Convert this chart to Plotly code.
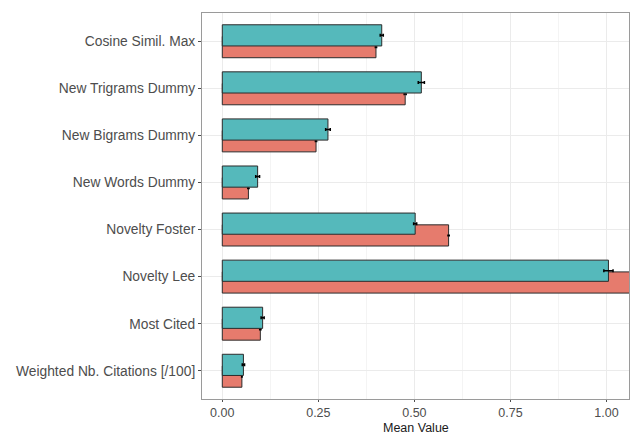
import plotly.graph_objects as go

# Indicators, listed top to bottom
categories = [
    "Cosine Simil. Max",
    "New Trigrams Dummy",
    "New Bigrams Dummy",
    "New Words Dummy",
    "Novelty Foster",
    "Novelty Lee",
    "Most Cited",
    "Weighted Nb. Citations [/100]",
]

# Mean values and standard errors for the two groups
teal_mean = [0.415, 0.518, 0.275, 0.092, 0.502, 1.005, 0.105, 0.055]
teal_err = [0.004, 0.008, 0.006, 0.005, 0.004, 0.012, 0.004, 0.003]
salmon_mean = [0.400, 0.476, 0.244, 0.068, 0.589, 1.080, 0.099, 0.051]
salmon_err = [0.002, 0.003, 0.002, 0.002, 0.002, 0.004, 0.002, 0.001]

x_ticks = [0, 0.25, 0.5, 0.75, 1.0]
x_tick_labels = ["0.00", "0.25", "0.50", "0.75", "1.00"]

TEAL = "#55B9BB"
SALMON = "#E67B6D"
OUTLINE = "#2b2b2b"
BAR_W = 0.45
LABEL_GREY = "#4D4D4D"

fig = go.Figure()

# salmon drawn first so the teal bar sits on top of the overlap
fig.add_trace(go.Bar(
    y=categories, x=salmon_mean, orientation="h",
    width=BAR_W, offset=0.125 - BAR_W / 2,
    marker=dict(color=SALMON, line=dict(color=OUTLINE, width=1)),
    error_x=dict(type="data", array=salmon_err, color="black", thickness=1.2, width=1),
    showlegend=False,
))
fig.add_trace(go.Bar(
    y=categories, x=teal_mean, orientation="h",
    width=BAR_W, offset=-0.125 - BAR_W / 2,
    marker=dict(color=TEAL, line=dict(color=OUTLINE, width=1)),
    error_x=dict(type="data", array=teal_err, color="black", thickness=1.5, width=1.5),
    showlegend=False,
))

font_family = "Liberation Sans, Arial, sans-serif"

fig.update_layout(
    width=631, height=436,
    margin=dict(l=202, r=2, t=13, b=37),
    barmode="overlay",
    paper_bgcolor="white", plot_bgcolor="white",
    font=dict(family=font_family, size=14, color=LABEL_GREY),
)

fig.update_xaxes(
    range=[-0.0528, 1.0585],
    tickvals=x_ticks,
    ticktext=x_tick_labels,
    showgrid=True, gridcolor="#EBEBEB", gridwidth=1,
    minor=dict(tickvals=[0.125, 0.375, 0.625, 0.875], showgrid=True,
               gridcolor="#F4F4F4", gridwidth=0.8, ticks=""),
    zeroline=False,
    showline=True, mirror=True, linecolor="#9a9a9a", linewidth=1,
    ticks="outside", ticklen=2, tickcolor=LABEL_GREY,
    tickfont=dict(size=12.5, color=LABEL_GREY),
    automargin=False,
)

fig.update_yaxes(
    type="category",
    categoryorder="array", categoryarray=categories,
    range=[7.6, -0.6],
    showgrid=True, gridcolor="#EBEBEB", gridwidth=1,
    zeroline=False,
    showline=True, mirror=True, linecolor="#9a9a9a", linewidth=1,
    ticks="outside", ticklen=3, tickcolor=LABEL_GREY,
    tickfont=dict(size=13.8, color=LABEL_GREY),
    automargin=False,
)

# x-axis title, sitting at the bottom edge under the tick labels
fig.add_annotation(
    text="Mean Value", xref="paper", yref="paper", x=0.5, y=0,
    yanchor="bottom", yshift=-37, borderpad=0, showarrow=False,
    font=dict(size=12.5, color="#1a1a1a"),
)

fig.write_html("out.html")
